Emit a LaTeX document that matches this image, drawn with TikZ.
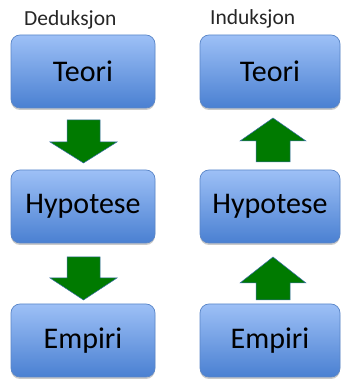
\documentclass[tikz,border=0pt]{standalone}
\usepackage{fontspec}
\setmainfont{Carlito}
\usetikzlibrary{shadows}
\definecolor{boxtop}{HTML}{9DC0F6}
\definecolor{boxbot}{HTML}{4A80D2}
\definecolor{boxline}{HTML}{5A86C8}
\definecolor{arrowgreen}{HTML}{007A00}
\definecolor{arrowline}{HTML}{3A6FA8}
\tikzset{
  x=1pt,y=1pt,
  stepbox/.style={draw=boxline, line width=0.7pt, rounded corners=9pt,
    top color=boxtop, bottom color=boxbot, minimum height=73pt,
    font=\fontsize{30}{34}\selectfont, inner sep=0pt,
    drop shadow={shadow xshift=0pt, shadow yshift=-2pt, opacity=0.35, fill=black!60}},
  greenarrow/.style={fill=arrowgreen, draw=arrowline, line width=0.5pt, line join=miter},
  titletext/.style={font=\fontsize{21.5}{25}\selectfont, anchor=base west, inner sep=0pt, text=black!85}
}
\begin{document}
\begin{tikzpicture}
\useasboundingbox (0,0) rectangle (341,379);
% titles
\node[titletext] (ded) at (24,353) {Deduksjon};
\node[titletext] (ind) at (210,354) {Induksjon};
% left column
\node[stepbox, minimum width=144pt] (lt) at (83,307.5) {Teori};
\node[stepbox, minimum width=144pt] (lh) at (83,172.5) {Hypotese};
\node[stepbox, minimum width=144pt] (le) at (83,38.5) {Empiri};
% right column
\node[stepbox, minimum width=140pt] (rt) at (270,307.5) {Teori};
\node[stepbox, minimum width=140pt] (rh) at (270,172.5) {Hypotese};
\node[stepbox, minimum width=140pt] (re) at (270,38.5) {Empiri};
% left down arrows
\draw[greenarrow] (67,259) -- (100,259) -- (100,237) -- (117,237) -- (83.5,216) -- (50,237) -- (67,237) -- cycle;
\draw[greenarrow] (67,122) -- (100,122) -- (100,101) -- (117,101) -- (83.5,79) -- (50,101) -- (67,101) -- cycle;
% right up arrows
\draw[greenarrow] (256,217) -- (290,217) -- (290,238) -- (306,238) -- (273,261) -- (240,238) -- (256,238) -- cycle;
\draw[greenarrow] (256,79) -- (290,79) -- (290,96) -- (306,96) -- (273,122) -- (240,96) -- (256,96) -- cycle;
\end{tikzpicture}
\end{document}
